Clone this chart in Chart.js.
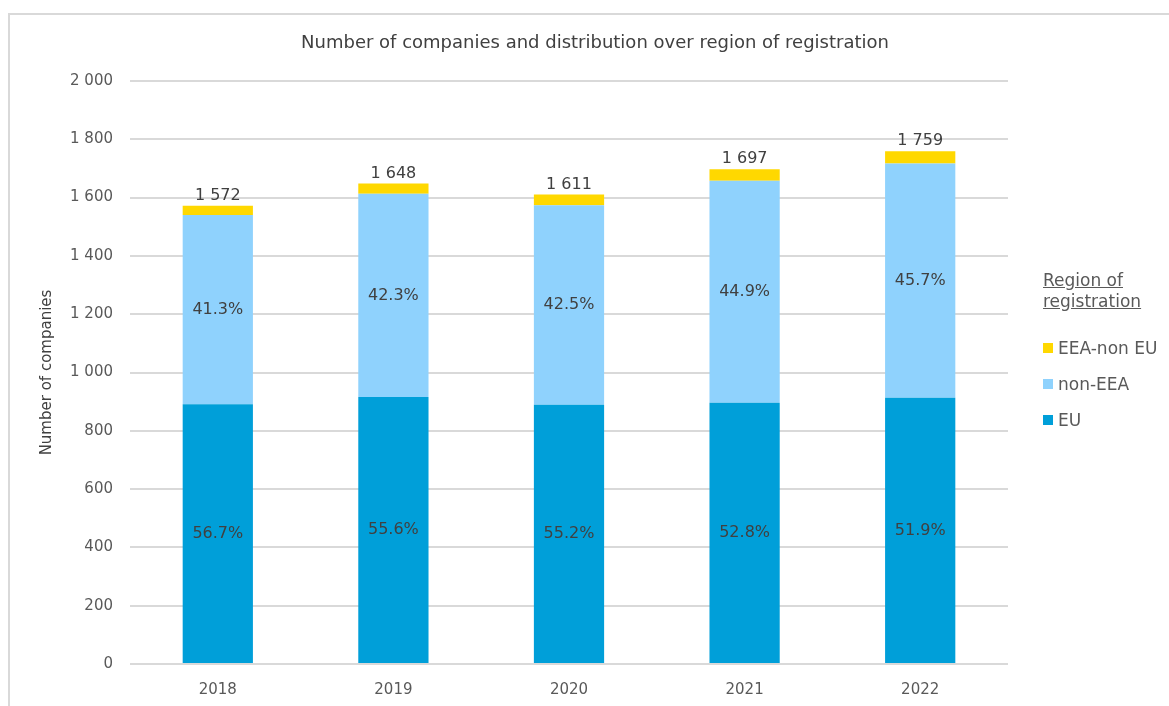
<!DOCTYPE html>
<html lang="en">
<head>
    <meta charset="UTF-8">
    <title>Number of companies and distribution over region of registration</title>
    <style>
        body {
            margin: 0;
            background: #ffffff;
            font-family: "DejaVu Sans", sans-serif;
        }

        #wrap {
            position: relative;
            width: 1169px;
            height: 706px;
            overflow: hidden;
        }

        #frame {
            position: absolute;
            left: 8px;
            top: 13px;
            width: 1300px;
            height: 800px;
            border-left: 2px solid #d9d9d9;
            border-top: 2px solid #d9d9d9;
        }

        #chart {
            position: absolute;
            left: 0;
            top: 0;
        }

        #title {
            position: absolute;
            left: 295px;
            width: 600px;
            top: 31px;
            text-align: center;
            color: #404040;
            font-size: 18px;
            line-height: 22px;
            white-space: nowrap;
        }

        #legend {
            position: absolute;
            left: 1043px;
            top: 270px;
            color: #595959;
            font-size: 17px;
        }

        #legend .title {
            text-decoration: underline;
            line-height: 21px;
            margin-bottom: 25px;
        }

        #legend .item {
            height: 36px;
            line-height: 22px;
            white-space: nowrap;
        }

        #legend .box {
            display: inline-block;
            width: 10px;
            height: 10px;
            margin-right: 5px;
            vertical-align: 1px;
        }
    </style>
    <script src="https://cdn.jsdelivr.net/npm/chart.js"></script>
</head>
<body>
    <div id="wrap">
        <div id="frame"></div>
        <canvas id="chart" width="1169" height="706"></canvas>
        <div id="title">Number of companies and distribution over region of registration</div>
        <div id="legend"></div>
    </div>
    <script>
        const years = ['2018', '2019', '2020', '2021', '2022'];
        const euCounts = [891, 916, 889, 896, 913];
        const nonEeaCounts = [649, 697, 685, 762, 804];
        const eeaNonEuCounts = [32, 35, 37, 39, 42];
        const totals = [1572, 1648, 1611, 1697, 1759];
        const euShares = ['56.7%', '55.6%', '55.2%', '52.8%', '51.9%'];
        const nonEeaShares = ['41.3%', '42.3%', '42.5%', '44.9%', '45.7%'];
        const yMax = 2000;
        const yStep = 200;

        function spaced(n) {
            return String(n).replace(/\B(?=(\d{3})+(?!\d))/g, ' ');
        }

        // percentages inside bars, totals above
        const barLabels = {
            id: 'barLabels',
            afterDatasetsDraw(chart) {
                const ctx = chart.ctx;
                ctx.save();
                ctx.fillStyle = '#404040';
                ctx.font = '16px "DejaVu Sans", sans-serif';
                ctx.textAlign = 'center';
                chart.data.datasets.forEach((ds, i) => {
                    const meta = chart.getDatasetMeta(i);
                    meta.data.forEach((bar, j) => {
                        if (ds.shares) {
                            ctx.textBaseline = 'middle';
                            ctx.fillText(ds.shares[j], bar.x, (bar.y + bar.base) / 2);
                        }
                        if (i === chart.data.datasets.length - 1) {
                            ctx.textBaseline = 'bottom';
                            ctx.fillText(spaced(totals[j]), bar.x, bar.y - 2);
                        }
                    });
                });
                ctx.restore();
            }
        };

        const chart = new Chart(document.getElementById('chart'), {
            type: 'bar',
            data: {
                labels: years,
                datasets: [
                    { label: 'EU', data: euCounts, backgroundColor: '#009fd9', shares: euShares },
                    { label: 'non-EEA', data: nonEeaCounts, backgroundColor: '#8fd2fd', shares: nonEeaShares },
                    { label: 'EEA-non EU', data: eeaNonEuCounts, backgroundColor: '#ffd800' }
                ]
            },
            options: {
                responsive: false,
                animation: false,
                categoryPercentage: 1,
                barPercentage: 0.4,
                layout: {
                    padding: { left: 38, right: 161, top: 81, bottom: 0 }
                },
                scales: {
                    x: {
                        stacked: true,
                        grid: { display: false },
                        border: { display: false },
                        ticks: { color: '#595959', padding: 9, font: { size: 15, family: '"DejaVu Sans", sans-serif' } },
                        afterFit(scale) { scale.height = 42; }
                    },
                    y: {
                        stacked: true,
                        min: 0,
                        max: yMax,
                        grid: { color: '#d9d9d9', lineWidth: 2, drawTicks: false },
                        border: { display: false },
                        ticks: {
                            stepSize: yStep,
                            color: '#595959',
                            padding: 17,
                            font: { size: 15, family: '"DejaVu Sans", sans-serif' },
                            callback: v => spaced(v)
                        },
                        title: {
                            display: true,
                            text: 'Number of companies',
                            color: '#404040',
                            padding: 0,
                            font: { size: 15, family: '"DejaVu Sans", sans-serif' }
                        },
                        afterFit(scale) { scale.width = 92; }
                    }
                },
                plugins: {
                    legend: { display: false },
                    tooltip: { enabled: false }
                }
            },
            plugins: [barLabels]
        });

        const legendEl = document.getElementById('legend');
        let html = '<div class="title">Region of<br>registration</div>';
        chart.data.datasets.slice().reverse().forEach(ds => {
            html += '<div class="item"><span class="box" style="background:' + ds.backgroundColor + '"></span>' + ds.label + '</div>';
        });
        legendEl.innerHTML = html;
    </script>
</body>
</html>
